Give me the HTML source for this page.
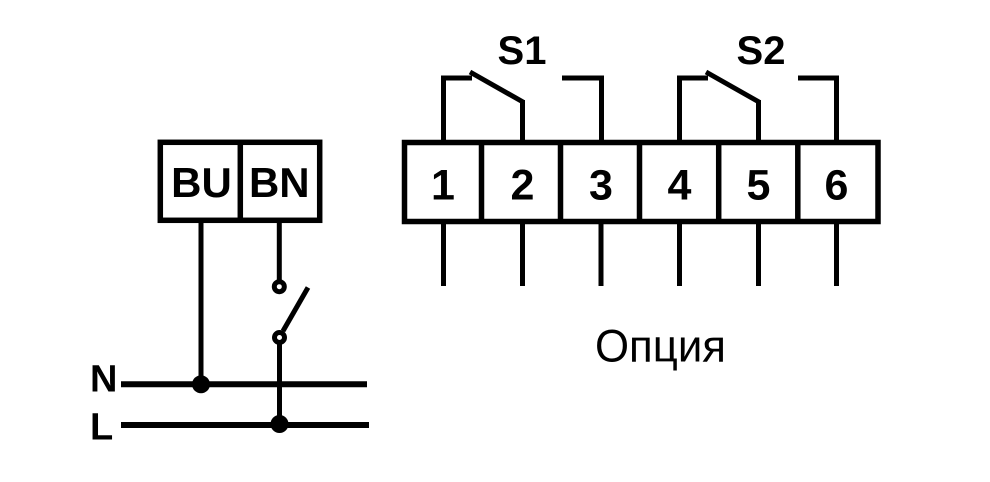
<!DOCTYPE html>
<html>
<head>
<meta charset="utf-8">
<style>
  html, body { margin:0; padding:0; background:#fff; }
  svg { display:block; }
  text { font-family: "Liberation Sans", "DejaVu Sans", sans-serif; fill:#000; }
</style>
</head>
<body>
<svg width="990" height="482" viewBox="0 0 990 482" xmlns="http://www.w3.org/2000/svg">
  <rect x="0" y="0" width="990" height="482" fill="#fff"/>
  <g fill="none" stroke="#000" stroke-linejoin="miter" stroke-linecap="butt">
    <!-- Left BU/BN box -->
    <rect x="160.3" y="142.3" width="159.4" height="78" stroke-width="5.5"/>
    <line x1="240.3" y1="142" x2="240.3" y2="221" stroke-width="5.5"/>
    <!-- BU wire -->
    <line x1="201" y1="220" x2="201" y2="384" stroke-width="5"/>
    <!-- BN wire to switch -->
    <line x1="279.3" y1="220" x2="279.3" y2="281" stroke-width="5"/>
    <circle cx="279.3" cy="286.7" r="5" stroke-width="5" fill="#fff"/>
    <line x1="283" y1="331" x2="308" y2="287.5" stroke-width="5"/>
    <circle cx="279.5" cy="337.5" r="5" stroke-width="5" fill="#fff"/>
    <line x1="279.5" y1="343" x2="279.5" y2="425" stroke-width="5"/>
    <!-- N and L lines -->
    <line x1="121" y1="384.3" x2="367" y2="384.3" stroke-width="6"/>
    <line x1="121" y1="425" x2="369" y2="425" stroke-width="6"/>

    <!-- Right terminal block -->
    <rect x="404.5" y="142.5" width="473.5" height="79" stroke-width="5.5"/>
    <line x1="481.5" y1="142" x2="481.5" y2="222" stroke-width="5.5"/>
    <line x1="560.5" y1="142" x2="560.5" y2="222" stroke-width="5.5"/>
    <line x1="639.5" y1="142" x2="639.5" y2="222" stroke-width="5.5"/>
    <line x1="718.7" y1="142" x2="718.7" y2="222" stroke-width="5.5"/>
    <line x1="797.8" y1="142" x2="797.8" y2="222" stroke-width="5.5"/>

    <!-- Bottom wires -->
    <line x1="443.5" y1="221" x2="443.5" y2="286" stroke-width="5"/>
    <line x1="522.5" y1="221" x2="522.5" y2="286" stroke-width="5"/>
    <line x1="601" y1="221" x2="601" y2="286" stroke-width="5"/>
    <line x1="679.5" y1="221" x2="679.5" y2="286" stroke-width="5"/>
    <line x1="758.5" y1="221" x2="758.5" y2="286" stroke-width="5"/>
    <line x1="836.5" y1="221" x2="836.5" y2="286" stroke-width="5"/>

    <!-- S1 -->
    <polyline points="443.5,142 443.5,78 472,78" stroke-width="5"/>
    <line x1="470" y1="72" x2="523" y2="102" stroke-width="5"/>
    <line x1="522.5" y1="100" x2="522.5" y2="142" stroke-width="5"/>
    <polyline points="562,78 601.5,78 601.5,142" stroke-width="5"/>
    <!-- S2 -->
    <polyline points="679.5,142 679.5,78 708,78" stroke-width="5"/>
    <line x1="706" y1="72" x2="759" y2="102" stroke-width="5"/>
    <line x1="758.5" y1="100" x2="758.5" y2="142" stroke-width="5"/>
    <polyline points="798,78 836.5,78 836.5,142" stroke-width="5"/>
  </g>

  <!-- junction dots -->
  <circle cx="201" cy="384.3" r="9" fill="#000"/>
  <circle cx="279.5" cy="424" r="9" fill="#000"/>

  <!-- Labels -->
  <g font-weight="bold" text-anchor="middle">
    <text x="201.5" y="197" font-size="42">BU</text>
    <text x="279.3" y="197" font-size="42">BN</text>
    <text x="443" y="199.5" font-size="43">1</text>
    <text x="522.5" y="199.5" font-size="43">2</text>
    <text x="601" y="199.5" font-size="43">3</text>
    <text x="679.5" y="199.5" font-size="43">4</text>
    <text x="758.5" y="199.5" font-size="43">5</text>
    <text x="836.5" y="199.5" font-size="43">6</text>
    <text x="522" y="64" font-size="40">S1</text>
    <text x="761" y="64" font-size="40">S2</text>
  </g>
  <text x="90" y="391.5" font-size="38" font-weight="bold">N</text>
  <text x="90" y="439.5" font-size="38" font-weight="bold">L</text>
  <text x="595" y="361.5" font-size="45" textLength="131" lengthAdjust="spacingAndGlyphs">Опция</text>
</svg>
</body>
</html>
